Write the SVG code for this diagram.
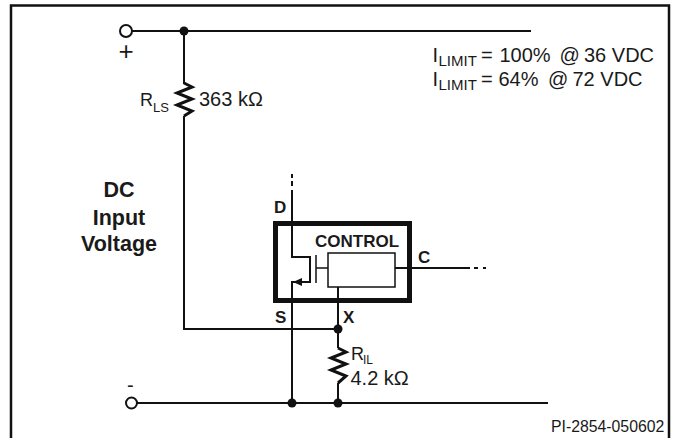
<svg xmlns="http://www.w3.org/2000/svg" width="678" height="438" viewBox="0 0 678 438">
<style>
text{font-family:"Liberation Sans",Arial,sans-serif;fill:#1a1a1a}
.w{fill:none;stroke:#111;stroke-width:2}
.t{fill:none;stroke:#111;stroke-width:1.5}
.r{fill:none;stroke:#111;stroke-width:3;stroke-linejoin:miter}
.d{fill:#111}
.o{fill:#fff;stroke:#111;stroke-width:2}
.b{font-weight:bold;font-size:17px}
.h{font-weight:bold;font-size:21.500px;text-anchor:middle}
.n{font-size:20px}
.l{font-size:18px}
.s{font-size:13px}
.i{font-size:15px}
</style>
<rect width="678" height="438" fill="#fff"/>
<rect id="frame" x="11" y="5.500" width="658" height="440" fill="none" stroke="#111" stroke-width="2.500"/>
<g id="connectors">
<path class="w" d="M132 31H531"/>
<path class="w" d="M184 31V84M184 116V329H338"/>
<path class="w" d="M292 174V178M292 181V186M292 190V257H310V282H292V403"/>
<path class="w" d="M338 287V348M338 383V403"/>
<path class="w" d="M137 403H548"/>
<path class="w" d="M395 268H470M474 268H478M483 268H486"/>
<path class="d" d="M293 282L302 278V286Z"/>
</g>
<g id="terminal-plus"><circle class="o" cx="126" cy="31" r="6"/><text x="118.500" y="60" font-size="26">+</text></g>
<g id="terminal-minus"><circle class="o" cx="131.500" cy="403" r="5.500"/><text class="n" x="127" y="392">-</text></g>
<g id="junctions"><circle class="d" cx="184" cy="31" r="4.500"/><circle class="d" cx="338" cy="329" r="4.500"/><circle class="d" cx="292" cy="403" r="4.500"/><circle class="d" cx="338" cy="403" r="4.500"/></g>
<g id="rls"><path class="r" d="M184 83L192 87L177 93L192 99L177 105L192 111L184 116"/><text class="l" x="140" y="106">R</text><text class="s" x="153" y="112">LS</text><text class="n" x="199" y="106">363 kΩ</text></g>
<g id="ril"><path class="r" d="M338 348L346 352L331 358L346 364L331 370L346 376L338 383"/><text class="l" x="351" y="360">R</text><text x="363" y="364" font-size="12">IL</text><text class="n" x="350.500" y="385">4.2 kΩ</text></g>
<g id="device">
<rect x="275.500" y="223.500" width="134" height="77" fill="none" stroke="#111" stroke-width="5"/>
<rect class="t" x="328" y="253" width="67" height="34"/>
<path class="t" d="M316 255V283M316 268H328"/>
<text class="b" x="315" y="247">CONTROL</text>
<text class="b" x="274" y="213">D</text><text class="b" x="275" y="323">S</text><text class="b" x="343" y="323">X</text><text class="b" x="418" y="263">C</text>
</g>
<g id="label-dc"><text class="h" x="119" y="197">DC</text><text class="h" x="119" y="225">Input</text><text class="h" x="119" y="251">Voltage</text></g>
<g id="notes">
<text class="n" x="432.500" y="62">I</text><text class="i" x="438.500" y="66">LIMIT</text><text class="n" x="481" y="62">=</text><text class="n" x="499.500" y="62">100%</text><text class="n" x="559.500" y="62">@</text><text class="n" x="584" y="62">36 VDC</text>
<text class="n" x="432.500" y="86">I</text><text class="i" x="438.500" y="90">LIMIT</text><text class="n" x="481" y="86">=</text><text class="n" x="498.500" y="86">64%</text><text class="n" x="548" y="86">@</text><text class="n" x="572.500" y="86">72 VDC</text>
</g>
<text id="part" x="551" y="432" font-size="15.800">PI-2854-050602</text>
</svg>
